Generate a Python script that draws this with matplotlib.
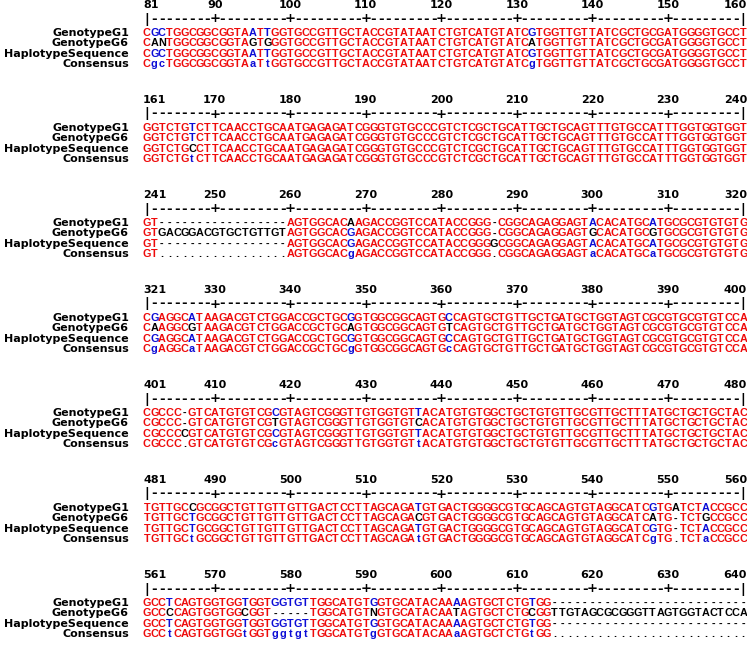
import matplotlib
matplotlib.use("Agg")
import matplotlib.pyplot as plt

# alignment data, one string of 80 columns per block
block_starts = [81, 161, 241, 321, 401, 481, 561]
seq_names = ["GenotypeG1", "GenotypeG6", "HaplotypeSequence"]

genotype_g1 = [
    "CGCTGGCGGCGGTAATTGGTGCCGTTGCTACCGTATAATCTGTCATGTATCGTGGTTGTTATCGCTGCGATGGGGTGCCT",
    "GGTCTGTCTTCAACCTGCAATGAGAGATCGGGTGTGCCCGTCTCGCTGCATTGCTGCAGTTTGTGCCATTTGGTGGTGGT",
    "GT-----------------AGTGGCACAAGACCGGTCCATACCGGG-CGGCAGAGGAGTACACATGCATGCGCGTGTGTG",
    "CGAGGCATAAGACGTCTGGACCGCTGCGGTGGCGGCAGTGCCAGTGCTGTTGCTGATGCTGGTAGTCGCGTGCGTGTCCA",
    "CGCCC-GTCATGTGTCGCGTAGTCGGGTTGTGGTGTTACATGTGTGGCTGCTGTGTTGCGTTGCTTTATGCTGCTGCTAC",
    "TGTTGCCGCGGCTGTTGTTGTTGACTCCTTAGCAGATGTGACTGGGGCGTGCAGCAGTGTAGGCATCGTGATCTACCGCC",
    "GCCTCAGTGGTGGTGGTGGTGTTGGCATGTGGTGCATACAAAAGTGCTCTGTGG--------------------------",
]
genotype_g6 = [
    "CANTGGCGGCGGTAGTGGGTGCCGTTGCTACCGTATAATCTGTCATGTATCATGGTTGTTATCGCTGCGATGGGGTGCCT",
    "GGTCTGTCTTCAACCTGCAATGAGAGATCGGGTGTGCCCGTCTCGCTGCATTGCTGCAGTTTGTGCCATTTGGTGGTGGT",
    "GTGACGGACGTGCTGTTGTAGTGGCACGAGACCGGTCCATACCGGG-CGGCAGAGGAGTGCACATGCGTGCGCGTGTGTG",
    "CAAGGCGTAAGACGTCTGGACCGCTGCAGTGGCGGCAGTGTCAGTGCTGTTGCTGATGCTGGTAGTCGCGTGCGTGTCCA",
    "CGCCC-GTCATGTGTCGTGTAGTCGGGTTGTGGTGTCACATGTGTGGCTGCTGTGTTGCGTTGCTTTATGCTGCTGCTAC",
    "TGTTGCTGCGGCTGTTGTTGTTGACTCCTTAGCAGACGTGACTGGGGCGTGCAGCAGTGTAGGCATCATG-TCTGCCGCC",
    "GCCCCAGTGGTGGCGGT-----TGGCATGTNGTGCATACAATAGTGCTCTGCGGTTGTAGCGCGGGTTAGTGGTACTCCA",
]
haplotype_seq = [
    "CGCTGGCGGCGGTAATTGGTGCCGTTGCTACCGTATAATCTGTCATGTATCGTGGTTGTTATCGCTGCGATGGGGTGCCT",
    "GGTCTGCCTTCAACCTGCAATGAGAGATCGGGTGTGCCCGTCTCGCTGCATTGCTGCAGTTTGTGCCATTTGGTGGTGGT",
    "GT-----------------AGTGGCACGAGACCGGTCCATACCGGGGCGGCAGAGGAGTACACATGCATGCGCGTGTGTG",
    "CGAGGCATAAGACGTCTGGACCGCTGCGGTGGCGGCAGTGCCAGTGCTGTTGCTGATGCTGGTAGTCGCGTGCGTGTCCA",
    "CGCCCCGTCATGTGTCGCGTAGTCGGGTTGTGGTGTTACATGTGTGGCTGCTGTGTTGCGTTGCTTTATGCTGCTGCTAC",
    "TGTTGCTGCGGCTGTTGTTGTTGACTCCTTAGCAGATGTGACTGGGGCGTGCAGCAGTGTAGGCATCGTG-TCTACCGCC",
    "GCCTCAGTGGTGGTGGTGGTGTTGGCATGTGGTGCATACAAAAGTGCTCTGTGG--------------------------",
]

RED = "#ee0a0a"
BLUE = "#0c0cd6"
res_font = "Liberation Sans"
lab_font = "DejaVu Sans"


def consensus_char(col):
    counts = {}
    for c in col:
        counts[c] = counts.get(c, 0) + 1
    best, n = max(counts.items(), key=lambda kv: kv[1])
    if n == len(col):
        return best.upper()
    if n >= 2 and best not in "-N":
        return best.lower()
    return "."


def residue_color(c, cons):
    if cons.isupper():
        return RED
    if cons.islower() and c.lower() == cons:
        return BLUE
    return "black"


fig = plt.figure(figsize=(7.47, 6.72), dpi=100)
ax = fig.add_axes([0, 0, 1, 1])
ax.set_xlim(0, 747)
ax.set_ylim(672, 0)
ax.axis("off")

x0 = 143.0   # left edge of first column
cw = 7.55    # column width
row_dy = 10.4

for b, start in enumerate(block_starts):
    y_num = 5 + b * 95
    y_rule = y_num + 14
    y_rows = [y_num + 28 + k * row_dy for k in range(4)]
    end = start + 79

    # position numbers
    ax.text(x0, y_num, str(start), ha="left", va="center", fontsize=8,
            fontweight="bold", family=lab_font)
    ax.text(x0 + 80 * cw, y_num, str(end), ha="right", va="center", fontsize=8,
            fontweight="bold", family=lab_font)
    for i in range(80):
        pos = start + i
        xc = x0 + (i + 0.5) * cw
        if pos % 10 == 0 and pos != end:
            ax.text(xc, y_num, str(pos), ha="center", va="center", fontsize=8,
                    fontweight="bold", family=lab_font)
        if i == 0 or i == 79:
            mark = "|"
        elif pos % 10 == 0:
            mark = "+"
        else:
            mark = "-"
        ax.text(xc, y_rule, mark, ha="center", va="center", fontsize=9.5,
                fontweight="bold", family=lab_font)

    seqs = [genotype_g1[b], genotype_g6[b], haplotype_seq[b]]
    cons = "".join(consensus_char([s[i] for s in seqs]) for i in range(80))

    for k, name in enumerate(seq_names + ["Consensus"]):
        ax.text(129, y_rows[k], name, ha="right", va="center", fontsize=8,
                fontweight="bold", family=lab_font)

    for k, s in enumerate(seqs):
        for i, c in enumerate(s):
            ax.text(x0 + (i + 0.5) * cw, y_rows[k], c, ha="center", va="center",
                    fontsize=7.8, fontweight="bold", family=res_font,
                    color=residue_color(c, cons[i]))
    for i, c in enumerate(cons):
        if c.isupper():
            col = RED
        elif c.islower():
            col = BLUE
        else:
            col = "black"
        ax.text(x0 + (i + 0.5) * cw, y_rows[3], c, ha="center", va="center",
                fontsize=7.8, fontweight="bold", family=res_font, color=col)

fig.savefig("out.png", dpi=100, facecolor="white")
